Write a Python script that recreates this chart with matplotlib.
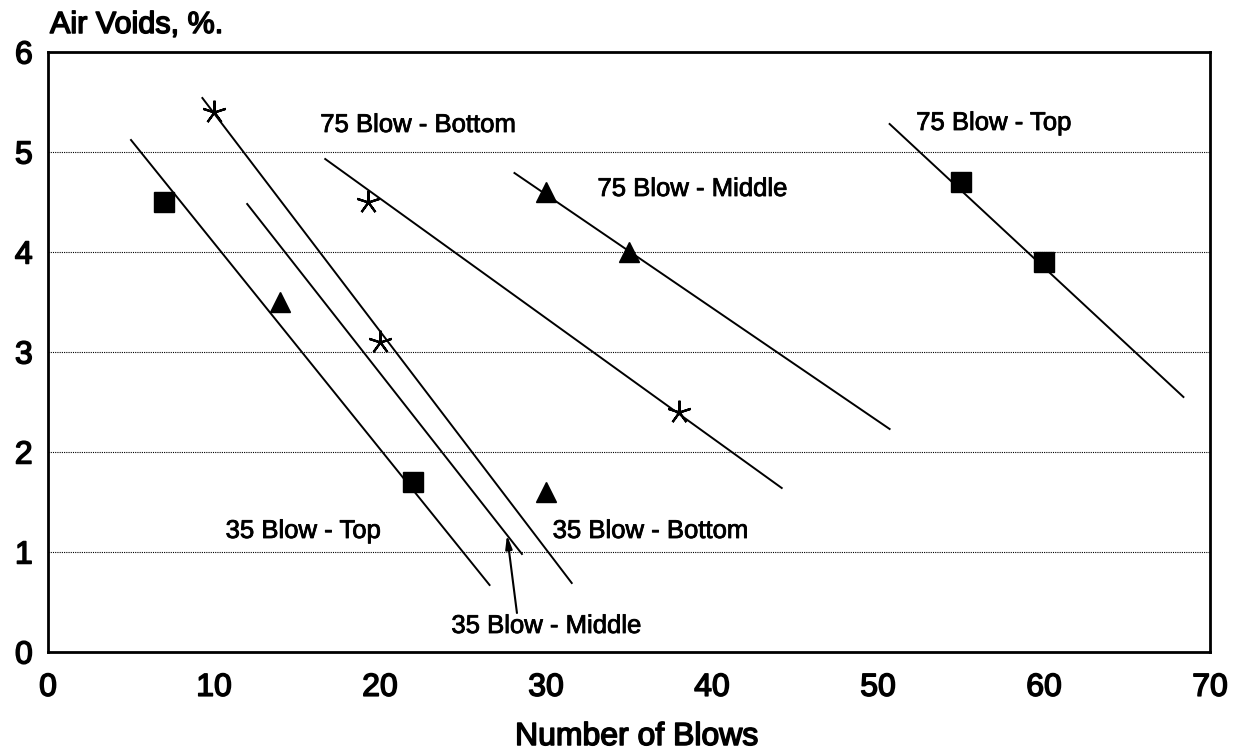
import matplotlib
matplotlib.use("Agg")
import matplotlib.pyplot as plt
import matplotlib.patheffects as pe

# measured points: squares = top, triangles = middle, stars = bottom
square_x = [7, 22, 55, 60]
square_y = [4.5, 1.7, 4.7, 3.9]
triangle_x = [14, 30, 30, 35]
triangle_y = [3.5, 1.6, 4.6, 4.0]
star_x = [10, 19.3, 20, 38]
star_y = [5.4, 4.5, 3.1, 2.4]

# trend lines (start, end)
fit_names = ["35 Blow - Top", "35 Blow - Middle", "35 Blow - Bottom",
             "75 Blow - Bottom", "75 Blow - Middle", "75 Blow - Top"]
fit_x = [(5.0, 26.6), (12.0, 28.55), (9.3, 31.55), (16.7, 44.2), (28.1, 50.7), (50.7, 68.4)]
fit_y = [(5.12, 0.67), (4.48, 0.98), (5.54, 0.69), (4.93, 1.64), (4.79, 2.23), (5.28, 2.55)]

# where each line name sits (left edge, baseline)
label_x = [10.7, 24.3, 30.4, 16.4, 33.1, 52.3]
label_y = [1.14, 0.19, 1.14, 5.2, 4.56, 5.22]

# arrow from the middle label up to its line
arrow_tail = (28.25, 0.39)
arrow_tip = (27.65, 1.17)

x_ticks = [0, 10, 20, 30, 40, 50, 60, 70]
y_ticks = [0, 1, 2, 3, 4, 5, 6]

plt.rcParams["font.family"] = ["Liberation Sans", "DejaVu Sans"]

heavy = [pe.withStroke(linewidth=1.1, foreground="black")]
medium = [pe.withStroke(linewidth=0.6, foreground="black")]

fig = plt.figure(figsize=(12.38, 7.55), dpi=100)
ax = fig.add_axes([48 / 1238, 103 / 755, 1162 / 1238, 600 / 755])

for y in y_ticks[1:-1]:
    ax.axhline(y, color="black", lw=0.8, ls=(0, (1, 1)), zorder=1)

for xs, ys in zip(fit_x, fit_y):
    ax.plot(xs, ys, color="black", lw=1.4, zorder=2)

ax.plot(square_x, square_y, ls="none", marker="s", ms=15, color="black", zorder=3)
ax.plot(triangle_x, triangle_y, ls="none", marker="^", ms=15, color="black", zorder=3)
ax.plot(star_x, star_y, ls="none", marker=(5, 2, 0), ms=17, mew=1.6, color="black", zorder=3)

for name, lx, ly in zip(fit_names, label_x, label_y):
    ax.text(lx, ly, name, fontsize=18.5, ha="left", va="baseline", path_effects=medium)

ax.annotate("", xy=arrow_tip, xytext=arrow_tail,
            arrowprops=dict(arrowstyle="-|>,head_length=0.8,head_width=0.2",
                            color="black", lw=1.5, shrinkA=0, shrinkB=0))

ax.set_xlim(0, 70)
ax.set_ylim(0, 6)
ax.set_xticks(x_ticks)
ax.set_yticks(y_ticks)
ax.tick_params(length=0, labelsize=23)
ax.tick_params(axis="x", pad=15)
ax.tick_params(axis="y", pad=11)
for lab in ax.get_xticklabels() + ax.get_yticklabels():
    lab.set_path_effects(heavy)
for s in ax.spines.values():
    s.set_linewidth(2)

fig.text(50 / 1238, (755 - 33) / 755, "Air Voids, %.", fontsize=22, ha="left", va="baseline",
         path_effects=heavy)
fig.text(637 / 1238, 10 / 755, "Number of Blows", fontsize=23, ha="center", va="baseline",
         path_effects=heavy)

fig.savefig("out.png", dpi=100)
